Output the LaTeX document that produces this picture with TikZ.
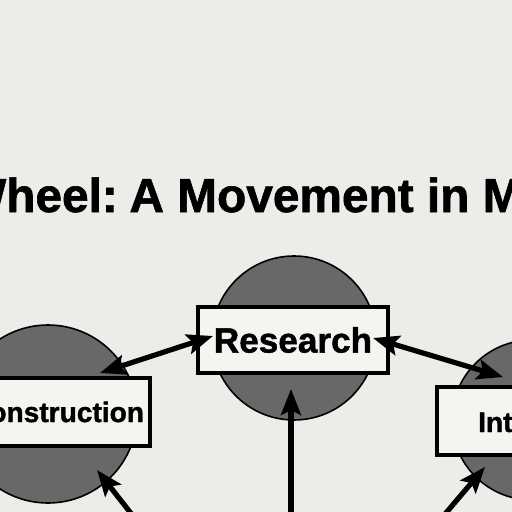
\documentclass[tikz,border=0pt]{standalone}
\usepackage{fontspec}
\setmainfont{Liberation Sans}[BoldFeatures={FakeBold=1.3}]
\usetikzlibrary{arrows.meta,positioning}
\definecolor{paper}{RGB}{236,236,233}
\definecolor{boxfill}{RGB}{244,244,241}
\definecolor{disc}{RGB}{104,104,104}

\begin{document}
\begin{tikzpicture}[x=0.5mm, y=-0.5mm,
    wheel/.style={circle, draw, line width=0.8mm, fill=disc, minimum size=#1, inner sep=0pt},
    stage/.style={draw, line width=2mm, fill=boxfill, inner sep=0pt, font=\bfseries\fontsize{#1}{#1}\selectfont},
    arr/.style={-{Stealth[length=13mm, width=10mm, inset=2.5mm]}, line width=2.6mm},
    dbl/.style={{Stealth[length=13mm, width=10mm, inset=2.5mm]}-{Stealth[length=13mm, width=10mm, inset=2.5mm]}, line width=2.6mm}
  ]
  \useasboundingbox (0,0) rectangle (512,512);
  \clip (0,0) rectangle (512,512);
  \fill[paper] (0,0) rectangle (512,512);

  % Title
  \node[anchor=base west, inner sep=0pt, font=\bfseries\fontsize{68}{80}\selectfont] (title) at (-39,212) {Wheel:\hspace{-3mm} A Movement in M};

  % Discs
  \node[wheel=82mm] (resdisc) at (294,338) {};
  \node[wheel=89mm] (condisc) at (48,414) {};
  \node[wheel=80mm] (intdisc) at (532,420) {};

  % Boxes
  \node[stage=50, minimum width=95mm, minimum height=33mm] (research) at (293,340) {Research};
  \node[stage=40, anchor=east, minimum height=34mm, inner xsep=3mm] (constr) at (152,412) {Construction};
  \node[stage=40, anchor=west, minimum width=100mm, minimum height=34mm] (interp) at (435,421) {};
  \node[anchor=base west, inner sep=0pt, font=\bfseries\fontsize{40}{40}\selectfont] (inttext) at (478,432) {Int};

  % Arrow ends
  \coordinate (cTip) at (100,373);
  \coordinate (rTipL) at (213,336);
  \coordinate (rTipR) at (373,338);
  \coordinate (iTip) at (503,377);
  \coordinate (rTipB) at (291,389);
  \coordinate (rTail) at (291,530);
  \coordinate (cTipB) at (97,470);
  \coordinate (cTail) at (144,530);
  \coordinate (iTipB) at (485,467);
  \coordinate (iTail) at (434,527);

  % Arrows
  \draw[dbl] (cTip) -- (rTipL);
  \draw[dbl] (rTipR) -- (iTip);
  \draw[arr] (rTail) -- (rTipB);
  \draw[arr] (cTail) -- (cTipB);
  \draw[arr] (iTail) -- (iTipB);
\end{tikzpicture}
\end{document}
